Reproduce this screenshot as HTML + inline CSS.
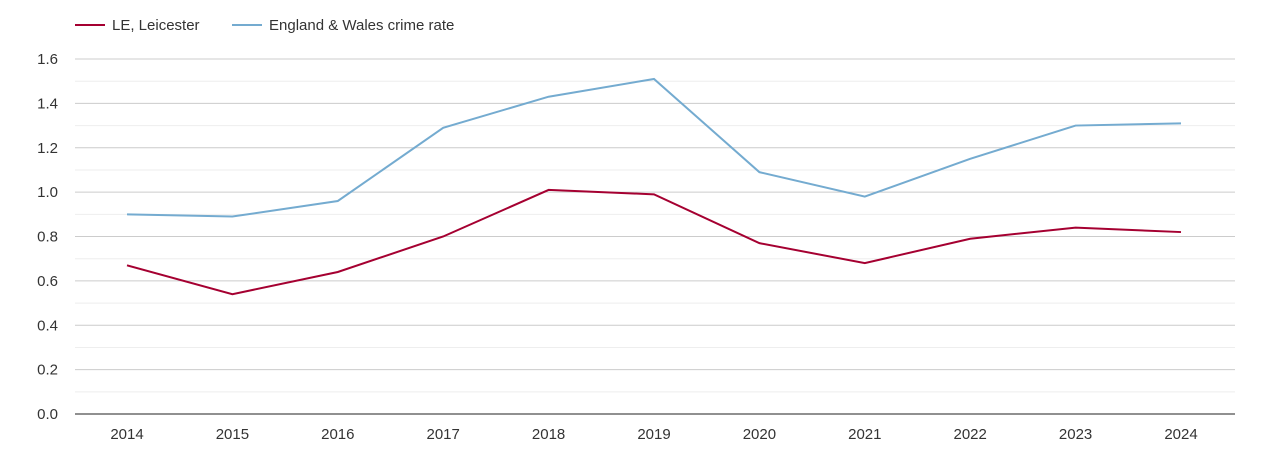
<!DOCTYPE html>
<html><head><meta charset="utf-8"><style>
body{margin:0;background:#fff;font-family:"Liberation Sans",Arial,sans-serif}
svg text{font-family:"Liberation Sans",Arial,sans-serif;font-size:15px;fill:#333}
</style></head><body>
<svg width="1270" height="450">
<g>
<g><line x1="75" y1="25" x2="105" y2="25" stroke="#a50031" stroke-width="2"/><text x="112" y="30">LE, Leicester</text></g>
<g><line x1="232" y1="25" x2="262" y2="25" stroke="#74abd0" stroke-width="2"/><text x="269" y="30">England &amp; Wales crime rate</text></g>
</g>
<g id="grid"></g>
<g id="yaxis"></g>
<g id="xaxis"></g>
<g id="series"></g>
</svg>
<script>
const years=["2014","2015","2016","2017","2018","2019","2020","2021","2022","2023","2024"];
const leicester=[0.67,0.54,0.64,0.80,1.01,0.99,0.77,0.68,0.79,0.84,0.82];
const englandWales=[0.90,0.89,0.96,1.29,1.43,1.51,1.09,0.98,1.15,1.30,1.31];
const yTicks=[0,0.2,0.4,0.6,0.8,1.0,1.2,1.4,1.6];
const NS="http://www.w3.org/2000/svg";
const L=75,R=1235,Y0=414,Y1=59,X0=127,X1=1181;
const y=v=>Y0-(v/1.6)*(Y0-Y1);
const x=i=>X0+i*(X1-X0)/(years.length-1);
function mk(t,a,p){const e=document.createElementNS(NS,t);for(const k in a)e.setAttribute(k,a[k]);p.appendChild(e);return e;}
const grid=document.getElementById('grid'),ya=document.getElementById('yaxis'),xa=document.getElementById('xaxis'),se=document.getElementById('series');
for(let k=1;k<=16;k++){const v=k*0.1;if(k%2)
{const g=mk('line',{x1:L,x2:R,y1:y(v),y2:y(v),stroke:'#eeeeee'},grid);}}
yTicks.forEach(v=>{
 if(v>0){const g=mk('line',{x1:L,x2:R,y1:y(v),y2:y(v),stroke:'#cccccc'},grid);
 
 }
 const t=mk('text',{x:58,y:y(v)+5,'text-anchor':'end'},ya);t.textContent=v.toFixed(1);
 
 
});
const ax=mk('line',{x1:L,x2:R,y1:Y0,y2:Y0,stroke:'#222'},xa);


years.forEach((yr,i)=>{const t=mk('text',{x:x(i),y:439,'text-anchor':'middle'},xa);t.textContent=yr;
 
 });
function line(d,c,n){const p=mk('polyline',{points:d.map((v,i)=>x(i)+','+y(v)).join(' '),fill:'none',stroke:c,'stroke-width':2},se);
 
 }
line(englandWales,'#74abd0','england-wales-line');
line(leicester,'#a50031','leicester-line');
</script>
</body></html>
